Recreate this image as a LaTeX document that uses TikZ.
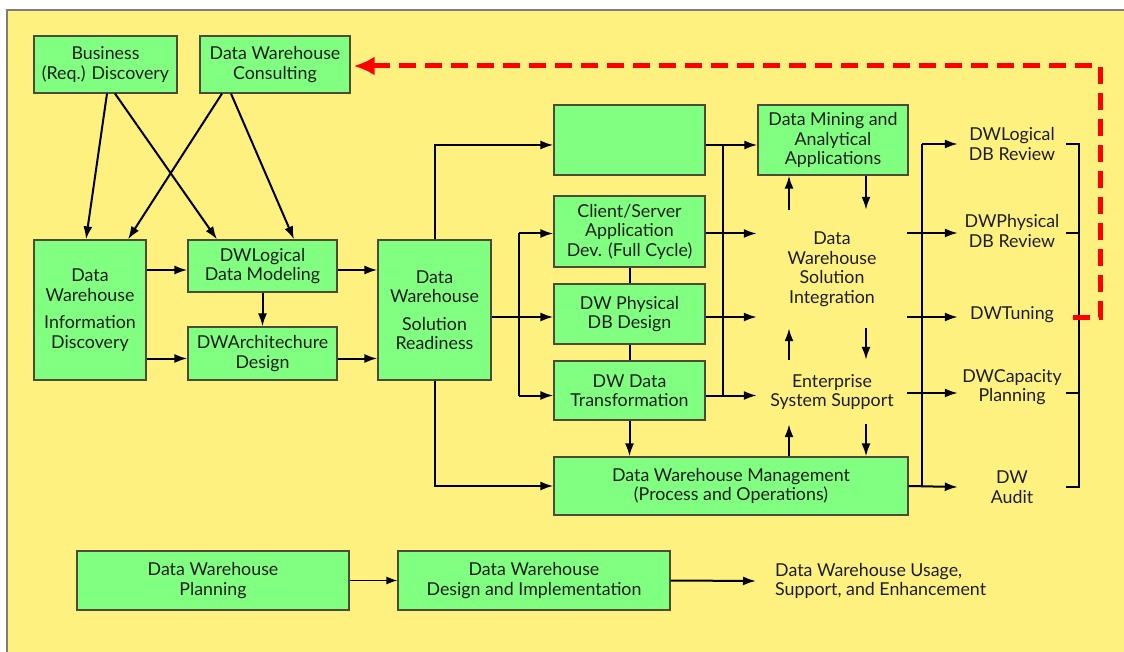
\documentclass[tikz,border=0pt]{standalone}
\usepackage{fontspec}
\setmainfont{Lato}
\usetikzlibrary{arrows.meta,positioning,calc}
\definecolor{bgyellow}{RGB}{255,241,128}
\definecolor{boxgreen}{RGB}{128,255,128}
\definecolor{boxline}{RGB}{75,75,55}
\definecolor{frameline}{RGB}{125,125,125}
\definecolor{inktext}{RGB}{30,30,30}
\tikzset{
  phase/.style={draw=boxline, fill=boxgreen, line width=1.2pt, align=center, inner sep=0pt, text=inktext, font=\fontsize{17.8}{19.5}\selectfont},
  task/.style={align=center, inner sep=0pt, text=inktext, font=\fontsize{17.8}{19.5}\selectfont},
  review/.style={task, minimum width=108},
  arrow/.style={-{Latex[length=13pt,width=9pt]}, line width=2pt},
  thinarrow/.style={-{Latex[length=11pt,width=8pt]}, line width=1.3pt},
  link/.style={line width=2pt},
  feedback/.style={-{Latex[length=21pt,width=19pt]}, line width=5pt, red, dash pattern=on 17pt off 9pt, shorten >=3pt}
}
\begin{document}
\begin{tikzpicture}[x=1pt, y=-1pt]
  \useasboundingbox (0,0) rectangle (1124,652);
  \fill[bgyellow] (7,10) rectangle (1124,652);
  \draw[frameline, line width=2pt] (7,652) -- (7,10) -- (1124,10);

  \node[phase, minimum width=143, minimum height=57] (biz) at (105.5,64.5) {Business\\(Req.) Discovery};
  \node[phase, minimum width=150, minimum height=57] (cons) at (275,64.5) {Data Warehouse\\Consulting};
  \node[phase, minimum width=112, minimum height=140] (info) at (90,310) {Data\\Warehouse\\[8pt]Information\\Discovery};
  \node[phase, minimum width=149, minimum height=52] (logic) at (262.5,266) {DWLogical\\Data Modeling};
  \node[phase, minimum width=149, minimum height=53] (arch) at (262.5,353.5) {DWArchitechure\\Design};
  \node[phase, minimum width=113, minimum height=140] (ready) at (434.5,310) {Data\\Warehouse\\[8pt]Solution\\Readiness};
  \node[phase, minimum width=151, minimum height=70] (app) at (629.5,140) {};
  \node[phase, minimum width=151, minimum height=71] (cs) at (629.5,231.5) {Client/Server\\Application\\Dev. (Full Cycle)};
  \node[phase, minimum width=151, minimum height=60] (phys) at (629.5,314) {DW Physical\\DB Design};
  \node[phase, minimum width=151, minimum height=59] (trans) at (629.5,390.5) {DW Data\\Transformation};
  \node[phase, minimum width=150, minimum height=70] (mining) at (833,140) {Data Mining and\\Analytical\\Applications};
  \node[phase, minimum width=354, minimum height=58] (mgmt) at (731,486) {Data Warehouse Management\\(Process and Operations)};
  \node[task, minimum width=150, minimum height=118] (integ) at (832,269) {Data\\Warehouse\\Solution\\Integration};
  \node[task, minimum width=150, minimum height=64] (ess) at (832,392) {Enterprise\\System Support};
  \node[review] (rev1) at (1012,144) {DWLogical\\DB Review};
  \node[review] (rev2) at (1012,231) {DWPhysical\\DB Review};
  \node[review] (tune) at (1012,315) {DWTuning};
  \node[review] (cap) at (1012,387) {DWCapacity\\Planning};
  \node[review] (audit) at (1012,487) {DW\\Audit};
  \node[phase, minimum width=272, minimum height=59] (plan) at (213,580.5) {Data Warehouse\\Planning};
  \node[phase, minimum width=272, minimum height=59] (design) at (534,580.5) {Data Warehouse\\Design and Implementation};
  \node[task, align=left, anchor=west, inner xsep=19pt] (usage) at (756,581) {Data Warehouse Usage,\\Support, and Enhancement};

  \coordinate (lbus) at (519,0);
  \coordinate (mbus) at (723,0);
  \coordinate (obus) at (922,0);
  \coordinate (brk) at (1079,0);
  \coordinate (upx) at (789,0);
  \coordinate (dnx) at (866,0);
  \coordinate (fb) at (1100,66);

  \draw[arrow] ([xshift=1.5pt]biz.south) -- ([xshift=-4pt]info.north);
  \draw[arrow] ([xshift=9.5pt]biz.south) -- ([xshift=-45.5pt]logic.north);
  \draw[arrow] ([xshift=-53pt]cons.south) -- ([xshift=38pt]info.north);
  \draw[arrow] ([xshift=-44pt]cons.south) -- ([xshift=31.5pt]logic.north);

  \draw[arrow] ($(info.east |- logic.west)+(0,4)$) -- ($(logic.west)+(0,4)$);
  \draw[arrow] ($(info.east |- arch.west)+(0,5)$) -- ($(arch.west)+(0,5)$);
  \draw[arrow] (logic.south) -- (arch.north);
  \draw[arrow] ($(logic.east)+(0,4)$) -- ($(logic.east -| ready.west)+(0,4)$);
  \draw[arrow] ($(arch.east)+(0,5)$) -- ($(arch.east -| ready.west)+(0,5)$);

  \draw[arrow] (ready.north) |- ($(app.west)+(0,5)$);
  \draw[arrow] (ready.south) |- (mgmt.west);
  \draw[arrow] ($(ready.east |- phys.west)+(0,3)$) -- ($(phys.west)+(0,3)$);
  \draw[arrow] ($(lbus |- cs.west)+(0,2)$) -- ($(cs.west)+(0,2)$);
  \draw[arrow] ($(lbus |- trans.west)+(0,5)$) -- ($(trans.west)+(0,5)$);
  \draw[link] ($(lbus |- cs.west)+(0,2)$) -- ($(lbus |- trans.west)+(0,5)$);
  \draw[link] (cs.south) -- (phys.north);
  \draw[link] (phys.south) -- (trans.north);
  \draw[arrow] (trans.south) -- (trans.south |- mgmt.north);

  \draw[arrow] ($(app.east)+(0,5)$) -- ($(mining.west)+(0,5)$);
  \draw[link] ($(mbus |- app.east)+(0,5)$) -- ($(mbus |- trans.east)+(0,5)$);
  \draw[arrow] ($(cs.east)+(0,2)$) -- ($(cs.east -| integ.west)+(0,2)$);
  \draw[arrow] ($(phys.east)+(0,3)$) -- ($(phys.east -| integ.west)+(0,3)$);
  \draw[arrow] ($(trans.east)+(0,5)$) -- ($(trans.east -| ess.west)+(0,5)$);

  \draw[arrow] (upx |- integ.north) -- (upx |- mining.south);
  \draw[arrow] (dnx |- mining.south) -- (dnx |- integ.north);
  \draw[arrow] (upx |- ess.north) -- (upx |- integ.south);
  \draw[arrow] (dnx |- integ.south) -- (dnx |- ess.north);
  \draw[arrow] (upx |- mgmt.north) -- (upx |- ess.south);
  \draw[arrow] (dnx |- ess.south) -- (dnx |- mgmt.north);

  \draw[arrow] (obus |- rev1.west) -- (rev1.west);
  \draw[link] (obus |- rev1.west) -- (obus |- audit.west);
  \draw[arrow] ($(integ.east |- rev2.west)+(0,2)$) -- ($(rev2.west)+(0,2)$);
  \draw[arrow] ($(integ.east |- tune.west)+(0,2)$) -- ($(tune.west)+(0,2)$);
  \draw[arrow] ($(ess.east)+(0,1)$) -- ($(ess.east -| cap.west)+(0,1)$);
  \draw[arrow] (mgmt.east) -- (audit.west);

  \draw[link] (rev1.east) -- (brk |- rev1.east) -- (brk |- audit.east) -- (audit.east);
  \draw[link] ($(rev2.east)+(0,2)$) -- ($(brk |- rev2.east)+(0,2)$);
  \draw[link] ($(cap.east |- ess.east)+(0,1)$) -- ($(brk |- ess.east)+(0,1)$);
  \draw[feedback] ($(tune.east)+(7,2)$) -- ($(tune.east -| fb)+(0,2)$) -- (fb) -- (fb -| cons.east);

  \draw[thinarrow] (plan.east) -- (design.west);
  \draw[arrow] (design.east) -- (usage.west);
\end{tikzpicture}
\end{document}
